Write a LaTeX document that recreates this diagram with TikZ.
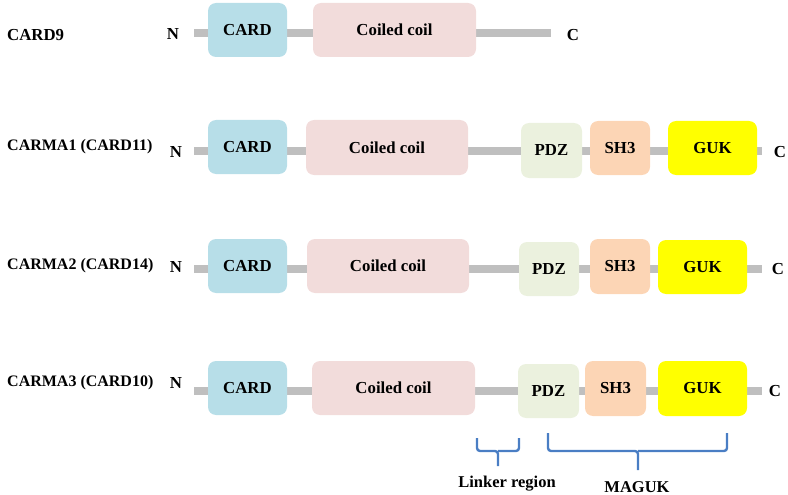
\documentclass[tikz,border=0pt]{standalone}
\usepackage{fontspec}
\setmainfont{Liberation Serif}
\definecolor{cardc}{HTML}{B7DEE8}
\definecolor{coilc}{HTML}{F2DCDB}
\definecolor{pdzc}{HTML}{EBF1DE}
\definecolor{shc}{HTML}{FCD5B5}
\definecolor{gukc}{HTML}{FFFF00}
\definecolor{linec}{HTML}{BFBFBF}
\definecolor{bracec}{HTML}{4A7EC4}
\newcommand{\dombox}[7]{%
  \node[dom,fill=#2,minimum width={(#5-#3)*1pt},minimum height={(#6-#4)*1pt}]
    (#1) at ({(#3+#5)/2},{(#4+#6)/2}) {#7};}
\begin{document}
\begin{tikzpicture}[x=1pt,y=-1pt,
  dom/.style={rounded corners=8pt,inner sep=0pt,draw=none,font=\fontsize{16.8}{19}\selectfont\bfseries},
  bb/.style={draw=linec,line width=8pt},
  term/.style={inner sep=0pt,font=\fontsize{16.8}{19}\selectfont\bfseries},
  plabel/.style={inner sep=0pt,anchor=west,font=\fontsize{16}{19}\selectfont\bfseries},
  brc/.style={draw=bracec,line width=2.4pt,rounded corners=3pt},
  blabel/.style={inner sep=0pt,font=\fontsize{16.5}{19}\selectfont\bfseries}]
\useasboundingbox (0,0) rectangle (788,495);
% ---- Row 1: CARD9
\coordinate (s1) at (194,33); \coordinate (e1) at (551,33);
\draw[bb] (s1) -- (e1);
\dombox{card1}{cardc}{208}{3}{287}{57}{CARD}
\dombox{coil1}{coilc}{313}{3}{476}{57}{Coiled coil}
\node[plabel,font=\fontsize{16.8}{19}\selectfont\bfseries] (lab1) at (7,35) {CARD9};
\node[term] (n1) at (173,34) {N};
\node[term] (c1) at (573,35) {C};
% ---- Row 2: CARMA1
\coordinate (s2) at (194,151); \coordinate (e2) at (762,151);
\draw[bb] (s2) -- (e2);
\dombox{card2}{cardc}{208}{120}{287}{174}{CARD}
\dombox{coil2}{coilc}{306}{120}{468}{175}{Coiled coil}
\dombox{pdz2}{pdzc}{521}{123}{582}{178}{PDZ}
\dombox{sh2}{shc}{590}{121}{650}{175}{SH3}
\dombox{guk2}{gukc}{668}{121}{757}{175}{GUK}
\node[plabel] (lab2) at (7,147) {CARMA1 (CARD11)};
\node[term] (n2) at (176,152) {N};
\node[term] (c2) at (780,152) {C};
% ---- Row 3: CARMA2
\coordinate (s3) at (194,269); \coordinate (e3) at (762,269);
\draw[bb] (s3) -- (e3);
\dombox{card3}{cardc}{208}{239}{287}{293}{CARD}
\dombox{coil3}{coilc}{307}{239}{469}{293}{Coiled coil}
\dombox{pdz3}{pdzc}{519}{242}{579}{296}{PDZ}
\dombox{sh3}{shc}{590}{239}{650}{294}{SH3}
\dombox{guk3}{gukc}{658}{240}{747}{294}{GUK}
\node[plabel] (lab3) at (7,266) {CARMA2 (CARD14)};
\node[term] (n3) at (176,267) {N};
\node[term] (c3) at (778,269) {C};
% ---- Row 4: CARMA3
\coordinate (s4) at (194,391); \coordinate (e4) at (762,391);
\draw[bb] (s4) -- (e4);
\dombox{card4}{cardc}{208}{361}{287}{415}{CARD}
\dombox{coil4}{coilc}{312}{361}{475}{415}{Coiled coil}
\dombox{pdz4}{pdzc}{518}{364}{579}{418}{PDZ}
\dombox{sh4}{shc}{585}{361}{646}{416}{SH3}
\dombox{guk4}{gukc}{658}{361}{747}{416}{GUK}
\node[plabel] (lab4) at (7,383) {CARMA3 (CARD10)};
\node[term] (n4) at (176,383) {N};
\node[term] (c4) at (775,391) {C};
% ---- Braces
\draw[brc] (477,438) |- (498,451) -- (498,466);
\draw[brc] (519,438) |- (498,451);
\draw[brc] (548,433) |- (638,451) -- (638,470);
\draw[brc] (727,433) |- (638,451);
\node[blabel] (linker) at (507,484) {Linker region};
\node[blabel] (maguk) at (637,487) {MAGUK};
\end{tikzpicture}
\end{document}
